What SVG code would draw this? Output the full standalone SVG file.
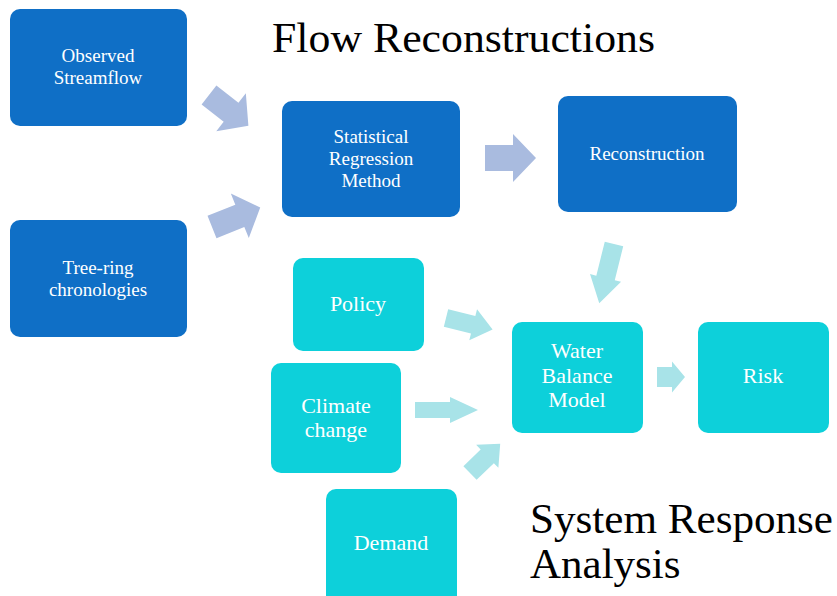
<svg xmlns="http://www.w3.org/2000/svg" width="837" height="596" viewBox="0 0 837 596">
<defs>
<style>
.dk{fill:#0F6FC6}
.cy{fill:#0DD0DA}
.lb{fill:#FFFFFF;font-family:"Liberation Serif","DejaVu Serif",serif;text-anchor:middle}
.s{font-size:19px}
.m{font-size:22px}
.ttl{fill:#000000;font-family:"Liberation Serif","DejaVu Serif",serif;font-size:43px}
.a1{fill:#A9BBDF}
.a2{fill:#A8E3E8}
</style>
</defs>
<rect width="837" height="596" fill="#FFFFFF"/>
<text class="ttl" x="272" y="52" textLength="383" lengthAdjust="spacingAndGlyphs">Flow Reconstructions</text>
<text class="ttl" x="530" y="533" textLength="303" lengthAdjust="spacingAndGlyphs">System Response</text>
<text class="ttl" x="530" y="578">Analysis</text>
<g id="connectors">
<path class="a1" transform="translate(209,95) rotate(38)" d="M0,-12 L28,-12 L28,-24 L50,0 L28,24 L28,12 L0,12 Z"/>
<path class="a1" transform="translate(212,227) rotate(-22)" d="M0,-12 L30,-12 L30,-24 L52,0 L30,24 L30,12 L0,12 Z"/>
<path class="a1" transform="translate(485,158)" d="M0,-13 L28,-13 L28,-24 L51,0 L28,24 L28,13 L0,13 Z"/>
<path class="a2" transform="translate(614,244) rotate(104)" d="M0,-9.5 L35,-9.5 L35,-16 L61,0 L35,16 L35,9.5 L0,9.5 Z"/>
<path class="a2" transform="translate(446,318) rotate(14)" d="M0,-9 L28,-9 L28,-16 L48,0 L28,16 L28,9 L0,9 Z"/>
<path class="a2" transform="translate(415,410)" d="M0,-8 L35,-8 L35,-13 L63,0 L35,13 L35,8 L0,8 Z"/>
<path class="a2" transform="translate(470,473) rotate(-44)" d="M0,-9.5 L24,-9.5 L24,-16 L42,0 L24,16 L24,9.5 L0,9.5 Z"/>
<path class="a2" transform="translate(657,377)" d="M0,-10 L15,-10 L15,-15.5 L28,0 L15,15.5 L15,10 L0,10 Z"/>
</g>
<g id="observed">
<rect class="dk" x="10" y="9" width="177" height="117" rx="10"/>
<text class="lb s" x="98" y="62">Observed</text>
<text class="lb s" x="98" y="84">Streamflow</text>
</g>
<g id="treering">
<rect class="dk" x="10" y="220" width="177" height="117" rx="10"/>
<text class="lb s" x="98" y="274">Tree-ring</text>
<text class="lb s" x="98" y="296">chronologies</text>
</g>
<g id="statistical">
<rect class="dk" x="282" y="101" width="178" height="116" rx="10"/>
<text class="lb s" x="371" y="143">Statistical</text>
<text class="lb s" x="371" y="165">Regression</text>
<text class="lb s" x="371" y="187">Method</text>
</g>
<g id="reconstruction">
<rect class="dk" x="558" y="96" width="179" height="116" rx="10"/>
<text class="lb s" x="647" y="160">Reconstruction</text>
</g>
<g id="policy">
<rect class="cy" x="293" y="258" width="131" height="93" rx="10"/>
<text class="lb m" x="358" y="311">Policy</text>
</g>
<g id="climate">
<rect class="cy" x="271" y="363" width="130" height="110" rx="10"/>
<text class="lb m" x="336" y="413">Climate</text>
<text class="lb m" x="336" y="437">change</text>
</g>
<g id="demand">
<rect class="cy" x="326" y="489" width="131" height="120" rx="10"/>
<text class="lb m" x="391" y="550">Demand</text>
</g>
<g id="wbm">
<rect class="cy" x="512" y="322" width="131" height="111" rx="10"/>
<text class="lb m" x="577" y="358">Water</text>
<text class="lb m" x="577" y="383">Balance</text>
<text class="lb m" x="577" y="407">Model</text>
</g>
<g id="risk">
<rect class="cy" x="698" y="322" width="131" height="111" rx="10"/>
<text class="lb m" x="763" y="383">Risk</text>
</g>
</svg>
